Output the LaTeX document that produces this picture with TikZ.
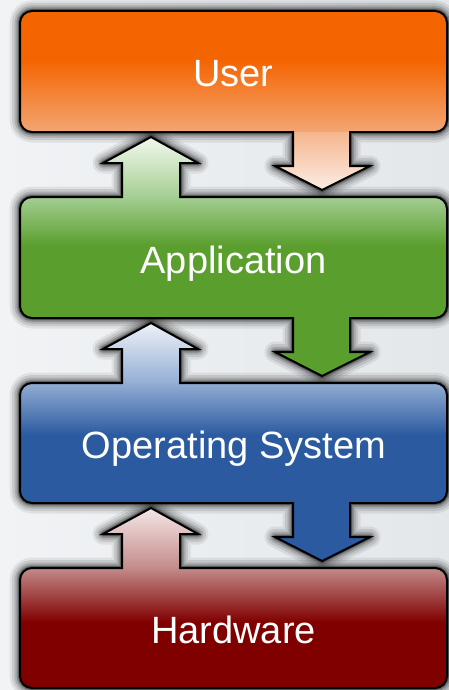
\documentclass[tikz,border=0pt]{standalone}
\usepackage{fontspec}
\setmainfont{Liberation Sans}
\definecolor{bgL}{HTML}{F1F3F5}
\definecolor{bgR}{HTML}{E3E7EA}
\definecolor{orS}{HTML}{F46400}
\definecolor{orB}{HTML}{F3A674}
\definecolor{orA}{HTML}{F5B68E}
\definecolor{orW}{HTML}{FCEEE6}
\definecolor{grW}{HTML}{F3F9EF}
\definecolor{grT}{HTML}{A4CE92}
\definecolor{grS}{HTML}{5A9E2D}
\definecolor{blW}{HTML}{EFF3F9}
\definecolor{blT}{HTML}{93ADD4}
\definecolor{blS}{HTML}{2B5AA0}
\definecolor{rdW}{HTML}{F5E8E8}
\definecolor{rdT}{HTML}{C48A8A}
\definecolor{rdS}{HTML}{800000}
\newcommand\upArrow[1]{-- (122,#1) -- (122,#1-34) -- (103,#1-34) -- (151,#1-60) -- (198,#1-34) -- (180,#1-34) -- (180,#1)}
\newcommand\downArrow[1]{-- (350,#1) -- (350,#1+34) -- (370,#1+34) -- (322,#1+58) -- (275,#1+34) -- (293,#1+34) -- (293,#1)}
\newcommand\layerpath[4]{(20,#1+12) .. controls (20,#1+5.4) and (25.4,#1) .. (32,#1) #3 -- (435,#1) .. controls (441.6,#1) and (447,#1+5.4) .. (447,#1+12) -- (447,#2-12) .. controls (447,#2-5.4) and (441.6,#2) .. (435,#2) #4 -- (32,#2) .. controls (25.4,#2) and (20,#2-5.4) .. (20,#2-12) -- cycle}
\newcommand\pUser{\layerpath{11}{132}{}{\downArrow{132}}}
\newcommand\pApp{\layerpath{197}{318}{\upArrow{197}}{\downArrow{318}}}
\newcommand\pOS{\layerpath{383}{503}{\upArrow{383}}{\downArrow{503}}}
\newcommand\pHW{\layerpath{568}{688}{\upArrow{568}}{}}
\newcommand\glowpath[1]{%
  \foreach \w/\o in {21/0.07,16/0.1,11/0.14,7/0.2,4/0.3}{\draw[glow, line width=\w pt, draw opacity=\o] #1;}}
\tikzset{
  glow/.style={draw=black, line join=round},
  outline/.style={draw=black, line width=2pt, line join=miter},
  lbl/.style={text=white, font=\fontsize{38}{40}\selectfont, inner sep=0pt, anchor=base}
}
\begin{document}
\begin{tikzpicture}[x=1pt,y=-1pt]
\useasboundingbox (0,0) rectangle (449,690);
\shade[left color=bgL, right color=bgR] (0,0) rectangle (449,690);
% shadows
\glowpath{\pUser}
\glowpath{\pApp}
\glowpath{\pOS}
\glowpath{\pHW}
% User
\begin{scope}
\clip \pUser;
\fill[orS] (0,0) rectangle (449,60);
\shade[top color=orS, bottom color=orB] (0,59.5) rectangle (449,132.5);
\shade[top color=orA, bottom color=orW] (0,132) rectangle (449,191);
\end{scope}
\draw[outline] \pUser;
% Application
\begin{scope}
\clip \pApp;
\shade[top color=grW, bottom color=grT] (0,136) rectangle (449,197.5);
\shade[top color=grT, bottom color=grS] (0,197) rectangle (449,246);
\fill[grS] (0,245.5) rectangle (449,378);
\end{scope}
\draw[outline] \pApp;
% Operating System
\begin{scope}
\clip \pOS;
\shade[top color=blW, bottom color=blT] (0,322) rectangle (449,383.5);
\shade[top color=blT, bottom color=blS] (0,383) rectangle (449,435);
\fill[blS] (0,434.5) rectangle (449,563);
\end{scope}
\draw[outline] \pOS;
% Hardware
\begin{scope}
\clip \pHW;
\shade[top color=rdW, bottom color=rdT] (0,507) rectangle (449,568.5);
\shade[top color=rdT, bottom color=rdS] (0,568) rectangle (449,622);
\fill[rdS] (0,621.5) rectangle (449,690);
\end{scope}
\draw[outline] \pHW;
% labels
\node[lbl] (user) at (233.5,87) {User};
\node[lbl] (app) at (233.5,273) {Application};
\node[lbl] (os) at (234,458) {Operating System};
\node[lbl] (hw) at (233.5,643) {Hardware};
\end{tikzpicture}
\end{document}
